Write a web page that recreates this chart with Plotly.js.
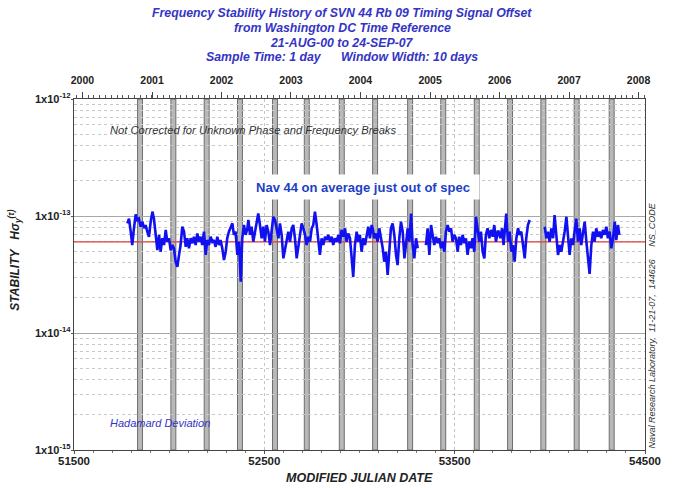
<!DOCTYPE html>
<html>
<head>
<meta charset="utf-8">
<script src="https://cdn.plot.ly/plotly-3.0.1.min.js"></script>
<style>
  html, body { margin: 0; padding: 0; background: #ffffff; }
  #chart { width: 676px; height: 488px; }
</style>
</head>
<body>
<div id="chart"></div>
<script>
// Hadamard deviation of SVN 44 Rb 09 clock, 10-day window, by Modified Julian Date
// values in units of 1e-14; null marks a break in the record
const mjd = [
  51780,51789,51798,51806,51815,51824,51833,51841,51850,51859,
  51868,51876,51885,51894,51903,51912,51920,51929,51938,51947,
  51955,51964,51973,51982,51990,51999,52008,52017,52025,52034,
  52043,52052,52060,52069,52078,52087,52095,52104,52113,52122,
  52130,52139,52148,52157,52165,52174,52183,52192,52200,52209,
  52218,52227,52235,52244,52253,52262,52270,52279,52288,52297,
  52305,52314,52323,52332,52340,52349,52358,52367,52376,52384,
  52393,52402,52411,
  52416,52425,52433,52442,52451,52460,52468,52477,52486,52495,
  52503,52512,52521,52530,52538,52547,52556,52565,52574,52582,
  52591,52600,52609,52617,52626,52635,52644,52652,52661,52670,
  52679,52687,52696,52705,52714,52722,52731,52740,52749,52757,
  52766,52775,52784,52792,52801,52810,52819,52827,52836,52845,
  52854,52862,52871,52880,52889,52897,52906,52915,52924,52932,
  52941,52950,52959,52967,52976,52985,52994,53002,53011,53020,
  53029,53038,53046,53055,53064,
  53069,53078,53087,53095,53104,53113,53122,53130,53139,53148,
  53157,53165,53174,53183,53192,53200,53209,53218,53227,53236,
  53244,53253,53262,53271,53279,53288,53297,53306,53312,53318,53334,
  53349,53358,53367,53376,53384,53393,53402,53411,53419,53428,
  53437,53446,53454,53463,53472,53481,53489,53498,53507,53516,
  53524,53533,53542,53551,53559,53568,53577,53586,53594,53603,
  53612,53621,53629,53638,53647,53656,53664,53673,53682,53691,
  53700,53708,53717,53726,
  53731,53740,53749,53757,53766,53771,53780,53789,53798,53806,
  53815,53824,53833,53841,53850,53859,53868,53876,53885,53894,
  53930,
  53973,53982,53990,53999,54008,54017,54025,54034,54043,54052,
  54060,54069,54078,54087,54095,54104,54113,54122,54130,54139,
  54148,54157,54165,54174,54183,54192,54200,54209,54218,54227,
  54235,54244,54253,54262,54270,54279,54288,54297,54305,54314,
  54323,54332,54341,54349,54358,54365
];
const hsig = [
  8.65,9.5,7.35,5.65,7.85,10.3,9.25,9.5,8.1,8.95,
  7.85,8.37,7.35,6.65,8.95,10.9,9.5,7.35,5.1,6.9,
  4.95,6.45,5.65,7.6,6.03,6.45,5.1,5.65,5.3,4.07,
  3.67,4.65,5.65,8.1,7.35,5.45,6.45,5.3,6.45,5.85,
  6.65,5.65,7.1,6.03,6.65,5.65,7.35,4.65,6.23,5.65,
  6.65,6.03,6.23,5.45,6.65,5.65,6.23,5.3,4.2,4.95,
  6.45,7.35,7.85,8.65,6.9,7.35,4.65,6.03,2.74,6.45,
  8.37,6.9,7.85,
  9.25,6.9,8.1,6.03,7.35,8.95,10.5,8.37,6.45,8.1,
  6.03,8.37,7.35,5.65,7.85,9.85,9.25,7.35,6.45,8.65,
  6.9,4.35,5.3,6.45,7.35,6.03,7.85,8.37,6.45,4.35,
  5.65,6.9,8.65,7.85,6.9,5.65,6.65,6.03,7.85,8.37,
  10.9,8.37,6.03,4.65,6.45,5.65,6.65,6.23,6.9,6.03,
  6.65,5.65,6.45,6.03,6.9,5.85,7.6,6.65,7.85,6.03,
  7.1,6.45,4.35,3.02,5.65,7.35,6.03,6.9,4.95,6.45,
  5.65,6.9,8.1,6.45,8.37,
  7.85,6.45,7.1,6.03,7.85,6.45,5.3,4.07,4.95,3.13,
  5.3,7.85,8.65,6.9,4.65,3.8,6.45,8.95,7.35,4.35,
  5.65,7.85,6.03,10.5,5.65,4.35,6.45,5.3,null,6.9,null,
  5.65,7.85,4.65,8.37,6.9,5.65,6.65,5.85,6.45,5.3,
  6.03,4.95,7.35,8.37,7.35,7.85,6.03,6.9,6.45,4.95,
  6.65,5.65,6.9,5.85,6.45,4.65,6.03,5.3,6.45,4.95,
  9.85,7.85,6.03,7.35,4.95,4.35,6.9,7.85,6.45,7.6,
  6.65,8.37,6.03,7.35,
  7.35,6.45,7.85,5.65,8.37,10.5,6.03,7.35,4.95,5.65,
  4.07,6.45,7.85,6.9,7.35,5.3,4.35,6.45,8.37,9.25,
  null,
  8.1,6.45,7.35,6.03,7.85,6.45,10.2,6.9,4.65,5.65,
  4.95,6.03,7.35,9.85,6.9,4.65,6.45,5.65,7.35,9.5,
  6.03,7.85,5.65,6.9,8.95,6.03,4.65,3.2,5.65,7.35,
  6.03,7.85,6.65,7.35,6.45,7.6,6.9,8.1,6.45,7.35,
  5.3,6.45,8.95,6.23,8.37,6.9
];
const hsigUnit = 1e-14;

// specification level
const specLevel = 6.0e-14;

// eclipse seasons (MJD start / end)
const eclipseStart = [51834,52009,52184,52359,52543,52710,52894,53069,53253,53427,53603,53778,53953,54128,54312];
const eclipseEnd   = [51860,52035,52210,52385,52569,52736,52920,53095,53279,53453,53629,53804,53979,54154,54338];

// calendar years on the top axis (MJD of 1 January)
const yearStartMJD = [51544,51910,52275,52640,53005,53371,53736,54101,54466];
const yearLabels   = ['2000','2001','2002','2003','2004','2005','2006','2007','2008'];

// stability decades on the left axis
const decadeVals   = [1e-15,1e-14,1e-13,1e-12];
const decadeLabels = ['1x10<sup>-15</sup>','1x10<sup>-14</sup>','1x10<sup>-13</sup>','1x10<sup>-12</sup>'];

// heading lines
const titleLines = [
  'Frequency Stability History of SVN 44 Rb 09 Timing Signal Offset',
  'from Washington DC Time Reference',
  '21-AUG-00 to 24-SEP-07',
  'Sample Time: 1 day&nbsp;&nbsp;&nbsp;&nbsp;&nbsp;&nbsp;Window Width: 10 days'
];

const mjdRange = [51500, 54500];
const FONT = 'Liberation Sans, Arial, sans-serif';

const minorDecades = [];
for (let e = -15; e < -12; e++) {
  for (let m = 2; m <= 9; m++) minorDecades.push(m * Math.pow(10, e));
}

const traces = [
  {
    x: mjdRange, y: [specLevel, specLevel],
    type: 'scatter', mode: 'lines',
    line: { color: '#e03a3a', width: 1.3 },
    hoverinfo: 'skip', showlegend: false
  },
  {
    x: mjd, y: hsig.map(v => v === null ? null : v * hsigUnit),
    type: 'scatter', mode: 'lines',
    connectgaps: false,
    line: { color: '#1010f0', width: 2.6 },
    showlegend: false
  },
  {
    x: mjdRange, y: [specLevel, specLevel], xaxis: 'x2',
    type: 'scatter', mode: 'lines',
    line: { color: 'rgba(0,0,0,0)', width: 0 },
    hoverinfo: 'skip', showlegend: false
  }
];

const shapes = eclipseStart.map((s, i) => ({
  type: 'rect', xref: 'x', yref: 'paper',
  x0: s, x1: eclipseEnd[i], y0: 0, y1: 1,
  fillcolor: '#b8b8b8',
  line: { color: '#6e6e6e', width: 1 },
  layer: 'between'
}));

// plot area spans 99..450 px vertically; heading lines placed above it
const titleY = [13, 28, 43, 57].map(py => (450 - py) / 351);
const titleAnnotations = titleLines.map((t, i) => ({
  text: t,
  xref: 'paper', yref: 'paper', x: 0.47, y: titleY[i],
  xanchor: 'center', yanchor: 'middle', showarrow: false,
  font: { family: FONT, size: 12.3, color: '#3434c4', weight: 'bold', style: 'italic' }
}));

const layout = {
  width: 676, height: 488,
  margin: { l: 74, r: 31, t: 99, b: 38 },
  paper_bgcolor: '#ffffff', plot_bgcolor: '#ffffff',
  font: { family: FONT, color: '#222222' },
  xaxis: {
    range: mjdRange, type: 'linear',
    tickvals: [51500, 52500, 53500, 54500],
    ticktext: ['51500', '52500', '53500', '54500'],
    tickfont: { family: FONT, size: 11.5, color: '#222222', weight: 'bold' },
    ticks: 'outside', ticklen: 3, tickcolor: '#555',
    ticklabelstandoff: -3,
    showgrid: true, gridcolor: '#c4c4c4', griddash: 'dot', gridwidth: 1,
    minor: { dtick: 100, tick0: 51500, ticks: 'outside', ticklen: 2, tickcolor: '#777', showgrid: false },
    showline: true, linecolor: '#444444', linewidth: 1.3, mirror: true,
    zeroline: false, fixedrange: true
  },
  xaxis2: {
    overlaying: 'x', side: 'top', range: mjdRange, type: 'linear',
    tickvals: yearStartMJD, ticktext: yearLabels,
    tickfont: { family: FONT, size: 10.5, color: '#222222', weight: 'bold' },
    ticks: 'outside', ticklen: 6, tickcolor: '#444', tickwidth: 1,
    ticklabelstandoff: 4,
    minor: { tick0: 51544, dtick: 30.44, ticks: 'outside', ticklen: 3, tickcolor: '#555', showgrid: false },
    showgrid: false, showline: false, zeroline: false, fixedrange: true
  },
  yaxis: {
    type: 'log', range: [-15, -12],
    tickvals: decadeVals, ticktext: decadeLabels,
    tickfont: { family: FONT, size: 11, color: '#222222', weight: 'bold' },
    ticks: 'outside', ticklen: 2, tickcolor: '#555',
    ticklabelstandoff: -2,
    showgrid: true, gridcolor: '#a8a8a8', gridwidth: 1,
    minor: { tickvals: minorDecades, showgrid: true, gridcolor: '#c8c8c8', griddash: 'dot', gridwidth: 1, ticks: '' },
    showline: true, linecolor: '#444444', linewidth: 1.3, mirror: true,
    zeroline: false, fixedrange: true
  },
  shapes: shapes,
  annotations: titleAnnotations.concat([
    {
      text: 'MODIFIED JULIAN DATE',
      xref: 'paper', yref: 'paper', x: 0.5, y: -0.08, xanchor: 'center', yanchor: 'middle',
      showarrow: false,
      font: { family: FONT, size: 12.5, color: '#222222', weight: 'bold', style: 'italic' }
    },
    {
      text: 'STABILITY   H\u03c3<sub>y</sub><sup>(\u03c4)</sup>',
      xref: 'paper', yref: 'paper', x: -0.103, y: 0.54, xanchor: 'center', yanchor: 'middle',
      textangle: -90, showarrow: false,
      font: { family: FONT, size: 12, color: '#222222', weight: 'bold', style: 'italic' }
    },
    {
      text: 'Not Corrected for Unknown Phase and Frequency Breaks',
      xref: 'paper', yref: 'paper', x: 0.0595, y: 0.912, xanchor: 'left', yanchor: 'middle',
      showarrow: false,
      font: { family: FONT, size: 11.2, color: '#333333', style: 'italic' }
    },
    {
      text: 'Nav 44 on average just out of spec',
      xref: 'paper', yref: 'paper', x: 0.507, y: 0.749, xanchor: 'center', yanchor: 'middle',
      showarrow: false, width: 226, height: 18, bgcolor: '#ffffff', borderpad: 3,
      font: { family: FONT, size: 13, color: '#2040c8', weight: 'bold' }
    },
    {
      text: 'Hadamard Deviation',
      xref: 'paper', yref: 'paper', x: 0.0595, y: 0.077, xanchor: 'left', yanchor: 'middle',
      showarrow: false,
      font: { family: FONT, size: 11, color: '#3434c4', style: 'italic' }
    },
    {
      text: 'Naval Research Laboratory,  11-21-07,  144626     NS_CODE',
      xref: 'paper', yref: 'paper', x: 1.0125, y: 0.355, xanchor: 'center', yanchor: 'middle',
      textangle: -90, showarrow: false,
      font: { family: FONT, size: 9, color: '#333333', style: 'italic' }
    }
  ])
};

Plotly.newPlot('chart', traces, layout, { displayModeBar: false, staticPlot: true });
</script>
</body>
</html>
